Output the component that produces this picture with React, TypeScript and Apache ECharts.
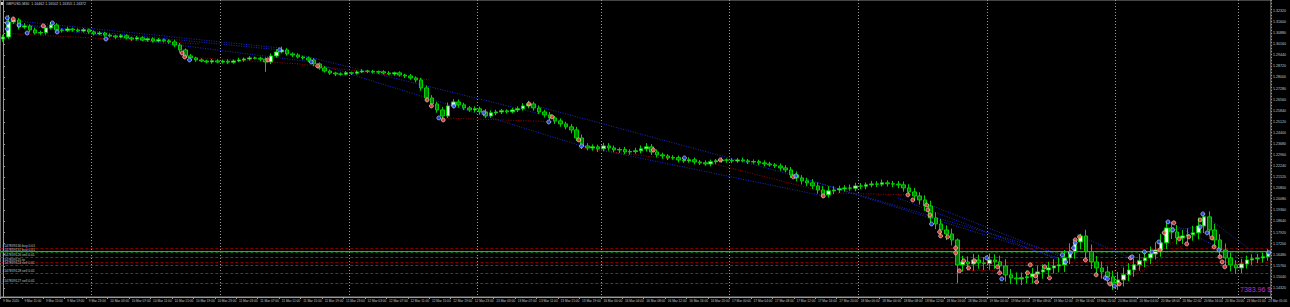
import React, { useEffect, useRef } from 'react';
import * as echarts from 'echarts';

// ---- time axis (H1 bars) ----
const dayBlocks: [string, number, number][] = [
  ['9 Mar', 7, 23], ['10 Mar', 0, 23], ['11 Mar', 0, 23], ['12 Mar', 0, 23], ['13 Mar', 0, 22],
  ['16 Mar', 0, 23], ['17 Mar', 0, 23], ['18 Mar', 0, 23], ['19 Mar', 0, 23], ['20 Mar', 0, 22], ['23 Mar', 0, 5],
];

// ---- price data ----
const firstOpen = 1.3050;
const closes = [
  1.3063, 1.3161, 1.3174, 1.3128, 1.3135, 1.3109, 1.3089, 1.3092, 1.3122, 1.3141,
  1.3109, 1.3106, 1.3115, 1.3109, 1.3102, 1.3110, 1.3096, 1.3083, 1.3089, 1.3076,
  1.3070, 1.3063, 1.3071, 1.3057, 1.3050, 1.3058, 1.3044, 1.3051, 1.3037, 1.3045,
  1.3038, 1.3031, 1.3011, 1.2979, 1.2940, 1.2927, 1.2914, 1.2907, 1.2901, 1.2908,
  1.2900, 1.2906, 1.2899, 1.2907, 1.2914, 1.2920, 1.2927, 1.2925, 1.2919, 1.2901,
  1.2940, 1.2966, 1.2979, 1.2953, 1.2946, 1.2933, 1.2927, 1.2914, 1.2888, 1.2862,
  1.2842, 1.2829, 1.2823, 1.2821, 1.2830, 1.2828, 1.2836, 1.2842, 1.2840, 1.2835,
  1.2837, 1.2829, 1.2823, 1.2830, 1.2816, 1.2810, 1.2797, 1.2784, 1.2732, 1.2667,
  1.2628, 1.2589, 1.2550, 1.2615, 1.2641, 1.2622, 1.2602, 1.2589, 1.2596, 1.2576,
  1.2550, 1.2570, 1.2576, 1.2583, 1.2577, 1.2589, 1.2596, 1.2615, 1.2628, 1.2602,
  1.2576, 1.2557, 1.2537, 1.2518, 1.2498, 1.2479, 1.2459, 1.2407, 1.2355, 1.2342,
  1.2349, 1.2336, 1.2355, 1.2342, 1.2329, 1.2331, 1.2316, 1.2318, 1.2323, 1.2336,
  1.2349, 1.2316, 1.2297, 1.2290, 1.2277, 1.2279, 1.2264, 1.2258, 1.2265, 1.2251,
  1.2245, 1.2238, 1.2252, 1.2258, 1.2264, 1.2262, 1.2257, 1.2264, 1.2258, 1.2251,
  1.2253, 1.2245, 1.2238, 1.2232, 1.2225, 1.2212, 1.2199, 1.2167, 1.2147, 1.2128,
  1.2115, 1.2095, 1.2069, 1.2037, 1.2063, 1.2069, 1.2076, 1.2082, 1.2080, 1.2095,
  1.2093, 1.2102, 1.2108, 1.2106, 1.2115, 1.2109, 1.2107, 1.2102, 1.2082, 1.2056,
  1.2030, 1.2004, 1.1965, 1.1887, 1.1848, 1.1809, 1.1783, 1.1744, 1.1582, 1.1601,
  1.1588, 1.1614, 1.1595, 1.1590, 1.1614, 1.1602, 1.1575, 1.1517, 1.1497, 1.1491,
  1.1498, 1.1504, 1.1523, 1.1536, 1.1549, 1.1562, 1.1575, 1.1582, 1.1627, 1.1666,
  1.1731, 1.1770, 1.1668, 1.1601, 1.1562, 1.1536, 1.1504, 1.1465, 1.1484, 1.1517,
  1.1549, 1.1582, 1.1608, 1.1627, 1.1653, 1.1679, 1.1725, 1.1822, 1.1796, 1.1757,
  1.1770, 1.1777, 1.1790, 1.1835, 1.1894, 1.1809, 1.1744, 1.1679, 1.1627, 1.1582,
  1.1562, 1.1588, 1.1614, 1.1621, 1.1627, 1.1634, 1.1660,
];
// upper / lower wick lengths in pips
const wickUp = [
  15, 45, 20, 12, 18, 10, 14, 12, 16, 20,
  12, 10, 14, 8, 10, 12, 8, 10, 12, 8,
  10, 8, 12, 10, 8, 12, 10, 8, 10, 12,
  8, 10, 12, 14, 10, 12, 8, 10, 8, 12,
  10, 8, 12, 10, 14, 10, 12, 8, 10, 12,
  16, 18, 22, 12, 10, 12, 8, 10, 12, 10,
  12, 10, 8, 10, 12, 8, 10, 12, 8, 10,
  8, 10, 12, 8, 10, 8, 12, 10, 14, 16,
  18, 14, 20, 22, 18, 16, 14, 12, 16, 14,
  18, 16, 14, 12, 10, 14, 16, 18, 20, 14,
  16, 14, 18, 12, 16, 14, 18, 20, 22, 18,
  16, 14, 20, 18, 16, 14, 18, 16, 20, 22,
  24, 18, 16, 14, 12, 16, 14, 12, 16, 14,
  12, 16, 14, 12, 16, 10, 14, 12, 16, 12,
  14, 12, 16, 14, 12, 16, 18, 20, 22, 18,
  20, 24, 22, 26, 30, 24, 20, 18, 22, 20,
  18, 16, 20, 18, 22, 16, 18, 20, 22, 24,
  26, 24, 30, 34, 36, 32, 30, 34, 10, 40,
  36, 40, 34, 38, 42, 36, 40, 44, 38, 36,
  34, 40, 38, 42, 36, 40, 44, 48, 52, 56,
  20, 14, 40, 46, 38, 42, 36, 40, 52, 48,
  44, 40, 46, 42, 48, 50, 56, 40, 40, 44,
  38, 42, 46, 54, 26, 36, 40, 38, 42, 36,
  30, 34, 28, 30, 26, 28, 24,
];
const wickDown = [
  18, 12, 14, 16, 12, 14, 10, 12, 14, 10,
  12, 14, 10, 12, 8, 10, 12, 10, 8, 12,
  10, 12, 8, 10, 12, 10, 8, 12, 10, 8,
  10, 12, 14, 16, 12, 10, 12, 8, 10, 12,
  8, 10, 12, 10, 8, 12, 10, 8, 12, 64,
  14, 12, 10, 12, 14, 10, 12, 14, 16, 12,
  10, 12, 14, 10, 8, 12, 10, 8, 12, 10,
  12, 10, 8, 12, 10, 14, 12, 16, 18, 20,
  16, 18, 28, 14, 16, 18, 14, 12, 16, 18,
  14, 12, 16, 14, 12, 10, 14, 12, 16, 18,
  14, 18, 16, 20, 18, 16, 22, 18, 20, 16,
  18, 20, 16, 18, 14, 20, 16, 18, 14, 16,
  18, 20, 16, 18, 14, 12, 16, 14, 12, 16,
  14, 12, 16, 14, 12, 16, 14, 12, 10, 14,
  12, 14, 16, 12, 14, 18, 16, 20, 22, 24,
  22, 20, 24, 20, 18, 22, 20, 18, 16, 20,
  18, 20, 16, 18, 14, 18, 20, 22, 24, 26,
  28, 30, 32, 36, 34, 38, 40, 36, 117, 44,
  40, 44, 38, 42, 40, 46, 50, 44, 40, 36,
  40, 36, 42, 38, 44, 40, 36, 42, 46, 40,
  44, 48, 52, 46, 50, 44, 48, 46, 46, 42,
  40, 44, 38, 42, 40, 36, 44, 40, 46, 42,
  40, 44, 38, 42, 46, 44, 48, 52, 46, 42,
  38, 34, 30, 32, 28, 30, 26,
];

// price scale labels
const priceLabels = [
  1.3232, 1.3160, 1.3088, 1.3016, 1.2944, 1.2872, 1.2800, 1.2728, 1.2656, 1.2584, 1.2512, 1.2440, 1.2368,
  1.2296, 1.2224, 1.2152, 1.2080, 1.2008, 1.1936, 1.1864, 1.1792, 1.1720, 1.1648, 1.1576, 1.1504, 1.1432,
];
const priceMin = 1.1373;
const priceMax = 1.33035;

// trade markers [bar position, price]
const buyMarks = [
  [0.8, 1.3187], [0.8, 1.3154], [0.8, 1.3115], [3.0, 1.3141], [4.5, 1.3089], [9.2, 1.3154], [10.1, 1.3096],
  [19.2, 1.3050], [34.8, 1.2914], [51.6, 1.2979], [57.5, 1.2901], [81.3, 1.2537], [84.1, 1.2615], [89.7, 1.2570],
  [101.8, 1.2511], [107.9, 1.2355], [127.1, 1.2277], [147.9, 1.2160], [173.2, 1.1848], [183.5, 1.1627],
  [186.3, 1.1491], [197.6, 1.1647], [198.2, 1.1601], [199.1, 1.1660], [199.7, 1.1692], [200.0, 1.1725],
  [205.6, 1.1497], [206.0, 1.1491], [207.3, 1.1445], [210.6, 1.1634], [212.9, 1.1666], [214.3, 1.1666],
  [215.6, 1.1731], [217.3, 1.1861], [218.2, 1.1809], [223.3, 1.1829], [223.8, 1.1913], [224.6, 1.1790],
  [226.8, 1.1679], [236.1, 1.1660],
];
const sellMarks = [
  [1.9, 1.3180], [7.5, 1.3135], [33.4, 1.2959], [33.9, 1.2933], [49.4, 1.2914], [58.7, 1.2875], [79.1, 1.2654],
  [79.9, 1.2615], [82.1, 1.2524], [98.1, 1.2628], [102.4, 1.2544], [107.4, 1.2394], [121.3, 1.2329],
  [133.8, 1.2264], [147.4, 1.2154], [153.0, 1.2030], [168.8, 1.2037], [169.7, 1.2004], [172.3, 1.1971],
  [172.5, 1.1939], [172.9, 1.1906], [174.7, 1.1796], [174.9, 1.1770], [176.2, 1.1764], [177.7, 1.1692],
  [177.7, 1.1660], [178.4, 1.1543], [179.2, 1.1608], [180.1, 1.1562], [181.2, 1.1608], [185.5, 1.1569],
  [185.9, 1.1530], [191.1, 1.1530], [191.6, 1.1582], [192.6, 1.1510], [192.8, 1.1471], [194.3, 1.1569],
  [195.2, 1.1497], [200.0, 1.1744], [200.8, 1.1764], [201.9, 1.1614], [203.9, 1.1517], [206.5, 1.1458],
  [208.2, 1.1458], [210.3, 1.1627], [215.8, 1.1679], [216.6, 1.1790], [218.4, 1.1855], [219.4, 1.1751],
  [220.8, 1.1718], [221.2, 1.1764], [223.3, 1.1874], [225.5, 1.1757], [225.9, 1.1699], [227.0, 1.1634],
  [227.4, 1.1601], [227.9, 1.1569],
];

// dotted trade links
const buyLinks = [
  [[0.8, 1.3174], [51.6, 1.2992]], [[0.8, 1.3154], [51.6, 1.2979]], [[3.0, 1.3141], [57.5, 1.2901]],
  [[51.6, 1.2979], [102.4, 1.2544]], [[57.5, 1.2901], [107.9, 1.2355]], [[98.1, 1.2628], [147.9, 1.2160]],
  [[107.9, 1.2355], [153.0, 1.2030]], [[147.9, 1.2160], [198.0, 1.1614]], [[150.2, 1.2134], [197.6, 1.1647]],
  [[166.9, 1.2017], [198.0, 1.1601]], [[171.9, 1.1985], [198.0, 1.1627]], [[178.1, 1.1582], [198.0, 1.1582]],
  [[200.4, 1.1777], [210.3, 1.1627]], [[217.3, 1.1861], [230.5, 1.1627]], [[223.8, 1.1913], [233.9, 1.1647]],
  [[218.2, 1.1809], [223.3, 1.1829]],
];
const sellLinks = [
  [[-0.5, 1.3089], [36.7, 1.3018]], [[33.9, 1.2933], [55.3, 1.2888]], [[55.3, 1.2888], [79.5, 1.2784]],
  [[82.1, 1.2537], [103.7, 1.2511]], [[107.4, 1.2342], [133.4, 1.2232]], [[133.4, 1.2232], [153.9, 1.2050]],
  [[153.9, 1.2050], [168.8, 1.2037]], [[178.4, 1.1549], [185.5, 1.1549]], [[207.3, 1.1439], [219.0, 1.1751]],
  [[209.7, 1.1484], [220.8, 1.1725]], [[204.7, 1.1504], [216.6, 1.1692]],
];

// open order levels
const orderPrices = [1.1690, 1.1663, 1.1630, 1.1598, 1.1578, 1.1526, 1.1461];
const orderLabels = ['#147839130 buy 0.01', '#147839131 buy 0.01', '#147839126 sell 0.01', '#147839125 tp',
  '#147839124 sell 0.01', '#147839128 sell 0.01', '#147839127 sell 0.01'];
const orderKinds = ['sl', 'buy', 'sell', 'tp', 'sell', 'sell', 'sell'];
const currentPrice = 1.1672;
const titleText = 'GBPUSD,M30  1.16462 1.16502 1.16355 1.16372';
const profitText = '7383.96 $';

const FONT = 'Liberation Sans';

export default function App() {
  const ref = useRef<HTMLDivElement>(null);
  useEffect(() => {
    if (!ref.current) return;
    const chart = echarts.init(ref.current, undefined, { renderer: 'svg' });

    const categories: string[] = [];
    const dayStarts = new Set<number>();
    dayBlocks.forEach(([d, h0, h1], bi) => {
      for (let h = h0; h <= h1; h++) {
        if (h === 0 && bi > 0) dayStarts.add(categories.length);
        categories.push(`${d} ${String(h).padStart(2, '0')}:00`);
      }
    });
    const N = categories.length;
    const candles = closes.map((c, i) => {
      const o = i === 0 ? firstOpen : closes[i - 1];
      return [o, c, Math.min(o, c) - wickDown[i] * 0.0001, Math.max(o, c) + wickUp[i] * 0.0001];
    });

    const orderItem = (p: number, i: number) => ({
      coords: [[-0.5, p], [N - 0.5, p]],
      label: {
        show: true, position: 'insideStartTop', distance: [2, 0.5], formatter: orderLabels[i],
        color: '#c0c0c0', fontSize: 3.4, fontFamily: FONT,
      },
    });
    const redOrders: any[] = [];
    const greenOrders: any[] = [];
    orderPrices.forEach((p, i) => {
      const isRed = orderKinds[i] === 'sl' || orderKinds[i] === 'tp';
      (isRed ? redOrders : greenOrders).push(orderItem(p, i));
    });
    const priceLine: any[] = [{
      coords: [[-0.5, currentPrice], [N - 0.5, currentPrice]],
      label: {
        show: true, position: 'end', distance: 2, formatter: currentPrice.toFixed(5),
        color: '#000', backgroundColor: '#ffffff', fontSize: 3.6, fontFamily: FONT, padding: [1, 1],
      },
    }];

    const linesBase = { type: 'lines', coordinateSystem: 'cartesian2d', xAxisIndex: 1, yAxisIndex: 0 };

    chart.setOption({
      animation: false,
      backgroundColor: '#000000',
      textStyle: { fontFamily: FONT },
      grid: { left: 0, top: 0, width: 1274, height: 297, show: true, borderColor: '#8a8a8a', borderWidth: 1, backgroundColor: '#000' },
      graphic: [
        { type: 'rect', shape: { x: 1, y: 2, width: 3, height: 3 }, style: { fill: '#d0d0d0' } },
        { type: 'text', x: 6, y: 2, style: { text: titleText, fill: '#d0d0d0', fontSize: 3.6, fontFamily: FONT } },
        { type: 'text', x: 1240, y: 286, style: { text: profitText, fill: '#c828c8', fontSize: 7, fontFamily: FONT } },
      ],
      xAxis: [
        {
          type: 'category', data: categories, boundaryGap: true,
          axisLine: { show: true, lineStyle: { color: '#9a9a9a', width: 1 } },
          axisTick: { show: true, interval: 3, length: 2, lineStyle: { color: '#9a9a9a' } },
          axisLabel: {
            interval: 3, fontSize: 3.2, color: '#c8c8c8', align: 'left', margin: 2, fontFamily: FONT,
            formatter: (v: string, i: number) => (i === 0 ? '9 Mar 2020' : v),
          },
          splitLine: {
            show: true, interval: (i: number) => dayStarts.has(i),
            lineStyle: { color: '#9a9a9a', type: [1, 2], width: 1 },
          },
        },
        { type: 'value', min: -0.5, max: N - 0.5, show: false },
      ],
      yAxis: {
        type: 'value', position: 'right', min: priceMin, max: priceMax,
        axisLine: { show: true, lineStyle: { color: '#9a9a9a', width: 1 } },
        axisTick: { show: true, customValues: priceLabels, length: 2, lineStyle: { color: '#9a9a9a' } },
        axisLabel: {
          customValues: priceLabels, fontSize: 3.6, color: '#c8c8c8', margin: 2, fontFamily: FONT,
          formatter: (v: number) => v.toFixed(5),
        },
        splitLine: { show: false },
      },
      series: [
        { ...linesBase, z: 1, data: redOrders, lineStyle: { color: '#7a0000', type: [3, 2], width: 1, opacity: 1 } },
        { ...linesBase, z: 1, data: greenOrders, lineStyle: { color: '#006a00', type: [3, 2], width: 1, opacity: 1 } },
        { ...linesBase, z: 1, data: sellLinks.map((c) => ({ coords: c })), lineStyle: { color: '#a00000', type: [1, 1.5], width: 1, opacity: 1 } },
        { ...linesBase, z: 1, data: buyLinks.map((c) => ({ coords: c })), lineStyle: { color: '#1a2ad0', type: [1, 1.5], width: 1, opacity: 1 } },
        {
          type: 'candlestick', xAxisIndex: 0, yAxisIndex: 0, z: 2,
          data: candles, barWidth: 4,
          itemStyle: { color: '#f0fff0', color0: '#007a00', borderColor: '#00d400', borderColor0: '#00d400', borderWidth: 1 },
        },
        { ...linesBase, z: 2.5, data: priceLine, lineStyle: { color: '#7a7a7a', type: 'solid', width: 1, opacity: 1 } },
        {
          type: 'scatter', xAxisIndex: 1, yAxisIndex: 0, z: 3, symbol: 'circle', symbolSize: 4,
          data: sellMarks, itemStyle: { color: '#ff4646', borderColor: '#ffd8d8', borderWidth: 0.8 },
        },
        {
          type: 'scatter', xAxisIndex: 1, yAxisIndex: 0, z: 3, symbol: 'circle', symbolSize: 4,
          data: buyMarks, itemStyle: { color: '#3050ff', borderColor: '#d0dcff', borderWidth: 0.8 },
        },
      ],
    });
    return () => chart.dispose();
  }, []);
  return (
    <div
      ref={ref}
      style={{ position: 'fixed', left: 0, top: 0, width: 1290, height: 307, background: '#000' }}
    />
  );
}
